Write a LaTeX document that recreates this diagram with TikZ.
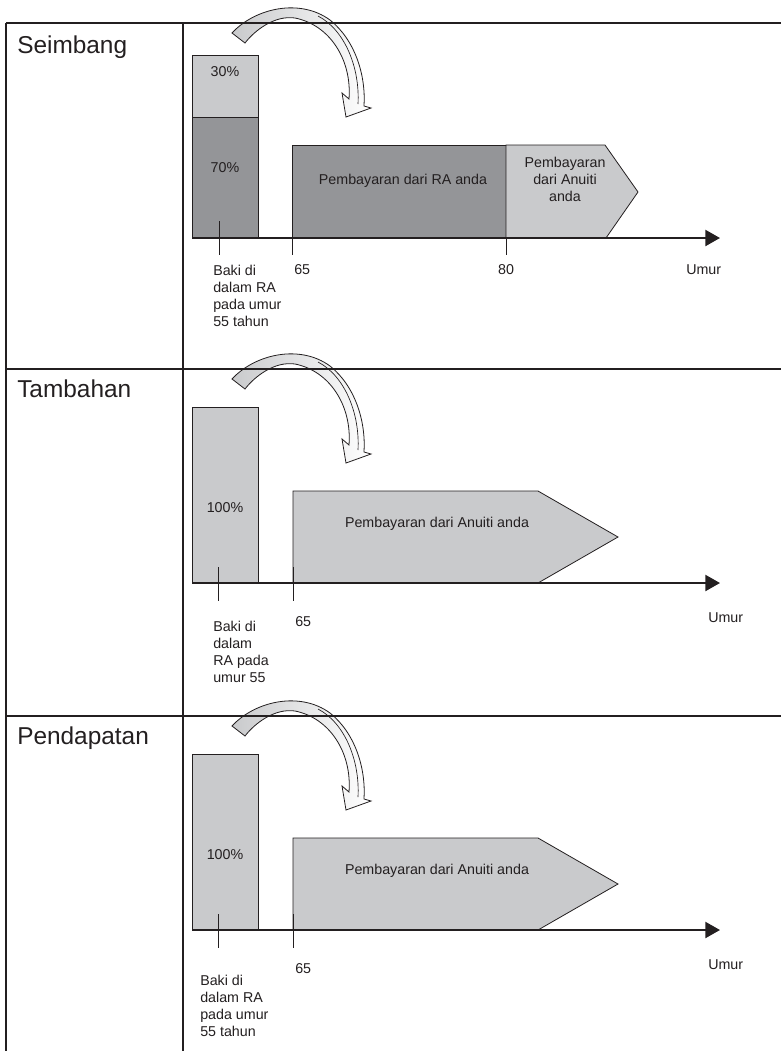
\documentclass[tikz,border=0pt]{standalone}
\usepackage{fontspec}
\setmainfont{Liberation Sans}
\usetikzlibrary{arrows.meta}

\definecolor{darkbar}{RGB}{148,149,152}
\definecolor{lightbar}{RGB}{201,202,204}
\definecolor{ink}{RGB}{35,31,32}

\tikzset{
  frame/.style={line width=0.8pt,ink},
  bar/.style={draw=ink,line width=0.6pt},
  timeline/.style={line width=1.7pt,ink,-{Triangle[length=11pt,width=12pt]}},
  agetick/.style={line width=0.7pt,ink},
  label/.style={font=\fontsize{10.7}{12.75}\selectfont,text=ink,inner sep=0pt},
  heading/.style={font=\fontsize{18.3}{20}\selectfont,text=ink,inner sep=0pt,anchor=base west},
  swing/.style={draw=ink,line width=0.6pt,left color=lightbar,right color=white}
}

% curved block arrow over the top of each panel
\newcommand{\swingarrow}{%
  \draw[swing] (232,33) .. controls (255,8) and (300,-2) .. (330,20)
    .. controls (355,40) and (366,75) .. (364,106) -- (371,108) -- (346,117)
    -- (342,93) -- (349,99) .. controls (352,60) and (330,25) .. (295,18)
    .. controls (275,15) and (255,30) .. (245,43) -- cycle;
  \draw[ink,line width=0.5pt] (318,16) .. controls (345,30) and (360,68) .. (358,104);}

\begin{document}
\begin{tikzpicture}[x=0.75pt,y=-0.75pt]
  \useasboundingbox (0,0) rectangle (781,1051);

  % Seimbang
  \node[heading] (seimbang) at (17,53) {Seimbang};
  \swingarrow
  \draw[bar,fill=lightbar] (192,55) rectangle (258,117);
  \draw[bar,fill=darkbar] (192,117) rectangle (258,238);
  \node[label] (pct30) at (225,72) {30\%};
  \node[label] (pct70) at (225,168) {70\%};
  \draw[bar,fill=darkbar] (292,145) rectangle (506,238);
  \draw[bar,fill=lightbar] (506,145) -- (605,145) -- (638,192) -- (606,238) -- (506,238) -- cycle;
  \node[label] (bayarra) at (403,181) {Pembayaran dari RA anda};
  \node[label,align=center] (bayaran) at (565,179) {Pembayaran\\dari Anuiti\\anda};
  \draw[timeline] (192,238) -- (720,238);
  \foreach \x/\y in {219/221,292/221,506/238}
    \draw[agetick] (\x,\y) -- (\x,255);
  \node[label,anchor=north west,align=left] (baki) at (213,265) {Baki di\\dalam RA\\pada umur\\55 tahun};
  \node[label,anchor=west] (age65) at (294,270) {65};
  \node[label] (age80) at (506,270) {80};
  \node[label,anchor=west] (umur) at (686,270) {Umur};

  % Tambahan and Pendapatan
  \foreach \dy/\head/\bx/\by/\btext in {346/Tambahan/213/275/{Baki di\\dalam\\RA pada\\umur 55},
                                        693/Pendapatan/200/282/{Baki di\\dalam RA\\pada umur\\55 tahun}} {
    \begin{scope}[shift={(0,\dy)}]
      \node[heading] (head\dy) at (17,51) {\head};
      \swingarrow
      \draw[bar,fill=lightbar] (192,61) rectangle (258,237);
      \node[label] (pct\dy) at (225,162) {100\%};
      \draw[bar,fill=lightbar] (293,145) -- (538,145) -- (618,191) -- (538,237) -- (293,237) -- cycle;
      \node[label] (anuiti\dy) at (437,178) {Pembayaran dari Anuiti anda};
      \draw[timeline] (192,237) -- (720,237);
      \foreach \x in {218,293}
        \draw[agetick] (\x,221) -- (\x,255);
      \node[label,anchor=north west,align=left] (baki\dy) at (\bx,\by) {\btext};
      \node[label,anchor=west] (age\dy) at (295,276) {65};
      \node[label,anchor=west] (umur\dy) at (708,272) {Umur};
    \end{scope}
  }

  % table rules
  \foreach \y in {23,369,716}
    \draw[frame] (6,\y) -- (781,\y);
  \foreach \x in {6,183}
    \draw[frame] (\x,23) -- (\x,1051);
\end{tikzpicture}
\end{document}
